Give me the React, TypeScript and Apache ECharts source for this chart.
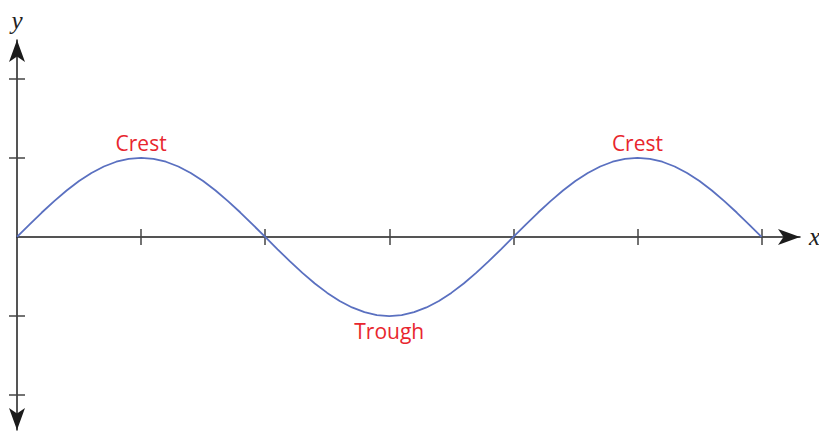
import React, { useEffect, useRef } from "react";
import * as echarts from "echarts";

const xValues = [
  0, 0.1, 0.2, 0.3, 0.4, 0.5, 0.6, 0.7, 0.8, 0.9, 1, 1.1, 1.2, 1.3, 1.4, 1.5, 1.6, 1.7, 1.8, 1.9,
  2, 2.1, 2.2, 2.3, 2.4, 2.5, 2.6, 2.7, 2.8, 2.9, 3, 3.1, 3.2, 3.3, 3.4, 3.5, 3.6, 3.7, 3.8, 3.9,
  4, 4.1, 4.2, 4.3, 4.4, 4.5, 4.6, 4.7, 4.8, 4.9, 5, 5.1, 5.2, 5.3, 5.4, 5.5, 5.6, 5.7, 5.8, 5.9, 6,
];
const yValues = [
  0, 0.156, 0.309, 0.454, 0.588, 0.707, 0.809, 0.891, 0.951, 0.988, 1, 0.988, 0.951, 0.891, 0.809, 0.707, 0.588, 0.454, 0.309, 0.156,
  0, -0.156, -0.309, -0.454, -0.588, -0.707, -0.809, -0.891, -0.951, -0.988, -1, -0.988, -0.951, -0.891, -0.809, -0.707, -0.588, -0.454, -0.309, -0.156,
  0, 0.156, 0.309, 0.454, 0.588, 0.707, 0.809, 0.891, 0.951, 0.988, 1, 0.988, 0.951, 0.891, 0.809, 0.707, 0.588, 0.454, 0.309, 0.156, 0,
];
const annotationX = [1, 3, 5];
const annotationY = [1, -1, 1];
const annotationText = ["Crest", "Trough", "Crest"];
const annotationPos = ["top", "bottom", "top"];
const xTicks = [1, 2, 3, 4, 5, 6];
const yTicks = [-2, -1, 1, 2];

const X_MIN = 0;
const X_MAX = 6.31;
const Y_MIN = -2.44;
const Y_MAX = 2.49;

export default function App() {
  const ref = useRef<HTMLDivElement>(null);
  useEffect(() => {
    if (!ref.current) return;
    const chart = echarts.init(ref.current, null, { renderer: "svg" });
    const axisColor = "#1c1c1c";
    const tickColor = "#444";
    const labelFont = "'Open Sans', 'Noto Sans', sans-serif";
    const nameStyle = { fontFamily: "'Liberation Serif', serif", fontStyle: "italic", fontSize: 25, color: "#222" };
    const data = xValues.map((x, i) => [x, yValues[i]]);
    const markData = annotationX.map((x, i) => ({
      coord: [x, annotationY[i]],
      label: {
        show: true,
        formatter: annotationText[i],
        position: annotationPos[i],
        distance: annotationPos[i] === "top" ? 3 : 3,
        color: "#e8262e",
        fontSize: 21,
        fontFamily: labelFont,
      },
    }));
    const baseX = {
      type: "value",
      min: X_MIN,
      max: X_MAX,
      splitLine: { show: false },
      axisLabel: { show: false },
    };
    const baseY = {
      type: "value",
      min: Y_MIN,
      max: Y_MAX,
      splitLine: { show: false },
      axisLabel: { show: false },
    };
    chart.setOption({
      animation: false,
      grid: { left: 17, right: 819 - 800, top: 40, bottom: 2, containLabel: false, outerBoundsMode: "none" },
      xAxis: [
        {
          ...baseX,
          position: "bottom",
          axisLine: {
            onZero: true,
            lineStyle: { color: axisColor, width: 1.5 },
            symbol: ["none", "arrow"],
            symbolSize: [12, 22],
            symbolOffset: [0, 0],
          },
          axisTick: { show: true, inside: false, length: 8, customValues: xTicks, lineStyle: { color: tickColor, width: 1.5 } },
          name: "x",
          nameLocation: "end",
          nameGap: 9,
          nameTextStyle: nameStyle,
        },
        {
          ...baseX,
          position: "top",
          axisLine: { onZero: true, show: false },
          axisTick: { show: true, inside: false, length: 8, customValues: xTicks, lineStyle: { color: tickColor, width: 1.5 } },
        },
      ],
      yAxis: [
        {
          ...baseY,
          position: "left",
          axisLine: {
            onZero: true,
            lineStyle: { color: axisColor, width: 1.5 },
            symbol: ["arrow", "arrow"],
            symbolSize: [12, 22],
            symbolOffset: [0, 0],
          },
          axisTick: { show: true, inside: false, length: 8, customValues: yTicks, lineStyle: { color: tickColor, width: 1.5 } },
          name: "y",
          nameLocation: "end",
          nameGap: 7,
          nameTextStyle: nameStyle,
        },
        {
          ...baseY,
          position: "right",
          axisLine: { onZero: true, show: false },
          axisTick: { show: true, inside: false, length: 8, customValues: yTicks, lineStyle: { color: tickColor, width: 1.5 } },
        },
      ],
      series: [
        {
          type: "line",
          xAxisIndex: 0,
          yAxisIndex: 0,
          data,
          smooth: false,
          showSymbol: false,
          lineStyle: { color: "#5a70c0", width: 1.8 },
          z: 3,
          markPoint: {
            symbol: "circle",
            symbolSize: 2,
            itemStyle: { color: "rgba(0,0,0,0)" },
            data: markData,
          },
        },
      ],
    });
    return () => chart.dispose();
  }, []);
  return <div ref={ref} style={{ width: 819, height: 432, position: "absolute", left: 0, top: 0, background: "#fff" }} />;
}
